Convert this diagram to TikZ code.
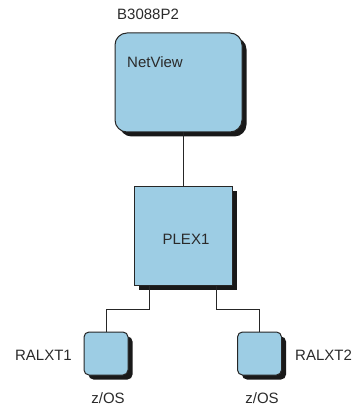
\documentclass[tikz,border=0pt]{standalone}
\usepackage{fontspec}
\setmainfont{Liberation Sans}
\usetikzlibrary{shadows}
\definecolor{boxfill}{HTML}{9DCDE4}
\definecolor{txt}{HTML}{2A2A2A}
\tikzset{
  x=1pt, y=-1pt,
  sysbox/.style={draw=black!85, line width=1pt, fill=boxfill,
    drop shadow={shadow xshift=4.5pt, shadow yshift=-4.5pt, fill=black!90, opacity=1}},
  lbl/.style={font=\fontsize{15}{18}\selectfont, text=txt, inner sep=0pt},
  link/.style={draw=black!85, line width=0.9pt}
}
\begin{document}
\begin{tikzpicture}
\useasboundingbox (0,0) rectangle (358,411);
% boxes
\node[sysbox, rounded corners=12pt, minimum width=127pt, minimum height=99pt] (netview) at (178.5,82.5) {};
\node[sysbox, minimum width=98pt, minimum height=98pt] (plex) at (183,236) {};
\node[sysbox, rounded corners=5pt, minimum width=44pt, minimum height=43pt] (ral1) at (106,353.5) {};
\node[sysbox, rounded corners=5pt, minimum width=44pt, minimum height=43pt] (ral2) at (259.5,353.5) {};
% texts
\node[lbl, anchor=west] (tb) at (117,14) {B3088P2};
\node[lbl, anchor=west] (tnv) at (127,62) {NetView};
\node[lbl] (tplex) at (186,239) {PLEX1};
\node[lbl, anchor=east] (tr1) at (72,355) {RALXT1};
\node[lbl, anchor=west] (tr2) at (295,355) {RALXT2};
\node[lbl] (tz1) at (108,398) {z/OS};
\node[lbl] (tz2) at (262,398) {z/OS};
% connectors
\coordinate (p1) at (149,285.5);
\coordinate (p2) at (216,285.5);
\coordinate (h) at (0,309);
\draw[link] (plex.north) -- (plex.north |- netview.south);
\draw[link] (p1) -- (p1 |- h) -| (ral1.north);
\draw[link] (p2) -- (p2 |- h) -| (ral2.north);
\end{tikzpicture}
\end{document}
